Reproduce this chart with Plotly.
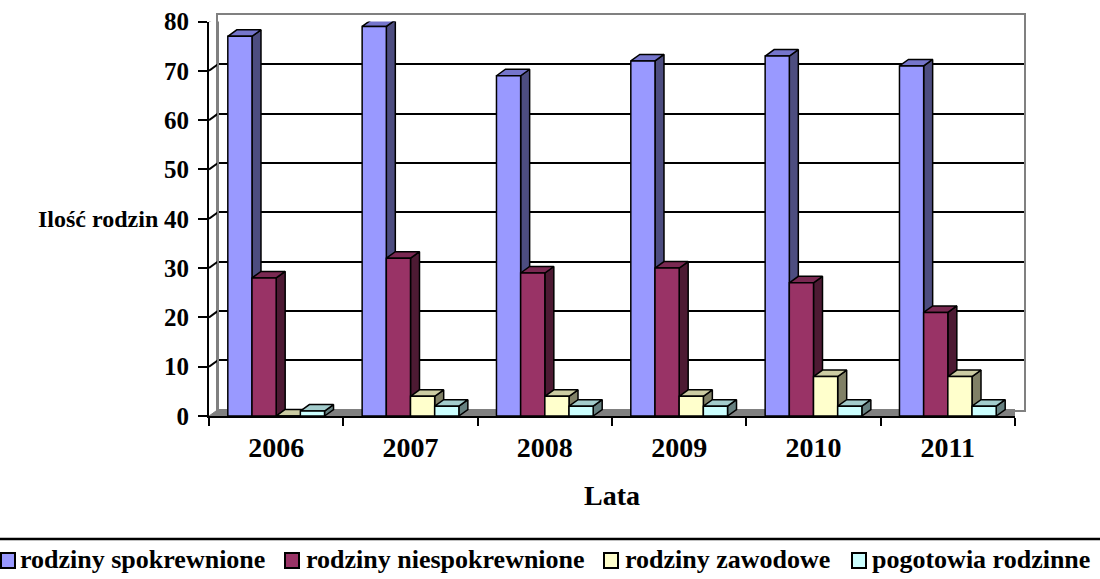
import plotly.graph_objects as go

# ---------------- data ----------------
years = ["2006", "2007", "2008", "2009", "2010", "2011"]
spokrewnione = [77, 79, 69, 72, 73, 71]
niespokrewnione = [28, 32, 29, 30, 27, 21]
zawodowe = [0, 4, 4, 4, 8, 8]
pogotowia = [1, 2, 2, 2, 2, 2]
series_names = ["rodziny spokrewnione", "rodziny niespokrewnione",
                "rodziny zawodowe", "pogotowia rodzinne"]
y_ticks = [0, 10, 20, 30, 40, 50, 60, 70, 80]
y_title = "Ilość rodzin"
x_title = "Lata"

series_values = [spokrewnione, niespokrewnione, zawodowe, pogotowia]

# ---------------- styles ----------------
front_colors = ["#9999FF", "#993366", "#FFFFCC", "#CCFFFF"]
top_colors = ["#7575CC", "#7A2952", "#CCCCA3", "#A3CCCC"]
side_colors = ["#4D4D80", "#4D1A33", "#808066", "#668080"]
FONT = "Liberation Serif"

W, H = 1100, 579
L, T = 209, 15
R = W - 1024
B = H - 416
PW, PH = W - L - R, H - T - B
DXP, DYP = 9, 6.5                     # 3D depth offset in pixels
front_wpx, front_hpx = PW - DXP, PH - DYP
x_range = [-0.5, 5.5]
y_range = [0, 80]
dx = DXP / (front_wpx / (x_range[1] - x_range[0]))
dy = DYP / (front_hpx / (y_range[1] - y_range[0]))
bar_w = 0.18
offsets = [-0.36, -0.18, 0.0, 0.18]


def px_x(px):
    """screen pixel -> paper x"""
    return (px - L) / PW


def px_y(py):
    """screen pixel -> paper y"""
    return (H - B - py) / PH


fig = go.Figure()

# ---- decorations (subplot x2/y2): floor, side-wall grid, bar sides & tops ----
fig.add_trace(go.Scatter(
    x=[x_range[0], x_range[0] + dx, x_range[1] + dx, x_range[1], x_range[0]],
    y=[0, dy, dy, 0, 0], mode="lines", fill="toself",
    fillcolor="#808080", line=dict(color="#808080", width=1),
    xaxis="x2", yaxis="y2", hoverinfo="skip", showlegend=False))
for t in y_ticks[1:]:
    fig.add_trace(go.Scatter(
        x=[x_range[0], x_range[0] + dx], y=[t, t + dy], mode="lines",
        line=dict(color="#808080" if t == y_ticks[-1] else "black", width=2),
        xaxis="x2", yaxis="y2", hoverinfo="skip", showlegend=False))
fig.add_trace(go.Scatter(
    x=[x_range[0] + dx, x_range[0] + dx], y=[dy, y_range[1] + dy], mode="lines",
    line=dict(color="#808080", width=2),
    xaxis="x2", yaxis="y2", hoverinfo="skip", showlegend=False))

for s, vals in enumerate(series_values):
    xs, ys = [], []
    for i, v in enumerate(vals):
        xr = i + offsets[s] + bar_w
        xs += [xr, xr + dx, xr + dx, xr, xr, None]
        ys += [0, dy, v + dy, v, 0, None]
    fig.add_trace(go.Scatter(
        x=xs, y=ys, mode="lines", fill="toself", fillcolor=side_colors[s],
        line=dict(color="black", width=1.5), xaxis="x2", yaxis="y2",
        hoverinfo="skip", showlegend=False))
for s, vals in enumerate(series_values):
    xs, ys = [], []
    for i, v in enumerate(vals):
        xl = i + offsets[s]
        xr = xl + bar_w
        xs += [xl, xl + dx, xr + dx, xr, xl, None]
        ys += [v, v + dy, v + dy, v, v, None]
    fig.add_trace(go.Scatter(
        x=xs, y=ys, mode="lines", fill="toself", fillcolor=top_colors[s],
        line=dict(color="black", width=1.5), xaxis="x2", yaxis="y2",
        hoverinfo="skip", showlegend=False))

# ---- front faces: real bars (subplot x3/y3 overlaying x2/y2) ----
for s, vals in enumerate(series_values):
    fig.add_trace(go.Bar(
        x=years, y=vals, name=series_names[s], width=bar_w, offset=offsets[s],
        marker=dict(color=front_colors[s], line=dict(color="black", width=1.5)),
        xaxis="x3", yaxis="y3", showlegend=False))

fig.add_trace(go.Scatter(x=[None], y=[None], xaxis="x", yaxis="y",
                         showlegend=False, hoverinfo="skip"))

ytick_font = dict(family=FONT, size=25, color="black", weight="bold")
xtick_font = dict(family=FONT, size=28, color="black", weight="bold")
title_font = dict(family=FONT, size=28, color="black", weight="bold")
ytitle_font = dict(family=FONT, size=24, color="black", weight="bold")
legend_font = dict(family=FONT, size=26, color="black", weight="bold")

fig.update_layout(
    template="none",
    width=W, height=H,
    margin=dict(l=L, r=R, t=T, b=B, autoexpand=False),
    paper_bgcolor="white", plot_bgcolor="rgba(0,0,0,0)",
    barmode="overlay",
    showlegend=False,
    xaxis=dict(domain=[DXP / PW, 1], range=x_range, showgrid=False,
               showticklabels=False, ticks="", zeroline=False,
               showline=True, linecolor="#808080", linewidth=2, mirror=True,
               anchor="y", automargin=False),
    yaxis=dict(domain=[DYP / PH, 1], range=y_range, tickvals=y_ticks[1:-1],
               showgrid=True, gridcolor="black", gridwidth=2,
               showticklabels=False, ticks="", zeroline=False,
               showline=True, linecolor="#808080", linewidth=2, mirror=True,
               anchor="x", automargin=False),
    xaxis2=dict(domain=[0, front_wpx / PW], range=x_range, showgrid=False,
                showticklabels=False, ticks="", zeroline=False,
                showline=False, anchor="y2", automargin=False),
    yaxis2=dict(domain=[0, front_hpx / PH], range=y_range, tickvals=y_ticks,
                showgrid=False, zeroline=False, showline=True,
                linecolor="black", linewidth=2, ticks="outside", ticklen=9,
                tickwidth=2, tickcolor="black", tickfont=ytick_font,
                ticklabelstandoff=4, ticklabeloverflow="allow",
                anchor="x2", automargin=False),
    xaxis3=dict(overlaying="x2", anchor="y3", type="category",
                range=x_range, showgrid=False, zeroline=False,
                showline=True, linecolor="black", linewidth=2,
                ticks="outside", tickson="boundaries", ticklen=8, tickwidth=2,
                tickcolor="black", tickfont=xtick_font, ticklabelstandoff=5,
                automargin=False),
    yaxis3=dict(overlaying="y2", anchor="x3", range=y_range, showgrid=False,
                zeroline=False, showticklabels=False, ticks="", showline=False,
                automargin=False),
)

fig.add_annotation(text=y_title, xref="paper", yref="paper",
                   x=px_x(36), y=px_y(219), xanchor="left", yanchor="middle",
                   showarrow=False, font=ytitle_font)
fig.add_annotation(text=x_title, xref="paper", yref="paper",
                   x=px_x(612), y=px_y(495), xanchor="center", yanchor="middle",
                   showarrow=False, font=title_font)

fig.add_shape(type="line", xref="paper", yref="paper",
              x0=px_x(0), x1=px_x(W), y0=px_y(539), y1=px_y(539),
              line=dict(color="black", width=2.5))
leg_sq_x = [0, 284, 603, 851]
leg_tx_x = [18, 304, 623, 870]
for s in range(4):
    fig.add_shape(type="rect", xref="paper", yref="paper",
                  x0=px_x(leg_sq_x[s] + 1), x1=px_x(leg_sq_x[s] + 15),
                  y0=px_y(553), y1=px_y(568),
                  fillcolor=front_colors[s], line=dict(color="black", width=2))
    fig.add_annotation(text=series_names[s], xref="paper", yref="paper",
                       x=px_x(leg_tx_x[s]), y=px_y(559), xanchor="left",
                       yanchor="middle", showarrow=False, font=legend_font)

fig.write_html("out.html", config={"displayModeBar": False},
               post_script="document.body.style.margin='0';")
